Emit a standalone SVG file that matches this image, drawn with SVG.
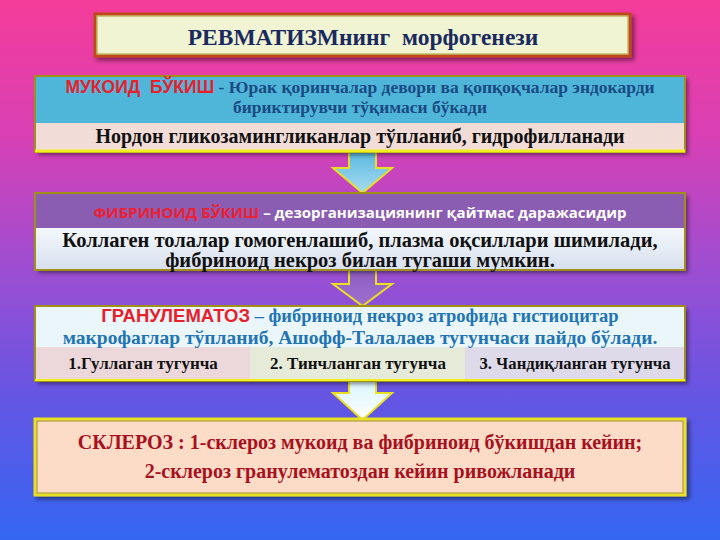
<svg xmlns="http://www.w3.org/2000/svg" width="720" height="540" viewBox="0 0 720 540">
<defs>
<linearGradient id="bg" x1="0" y1="0" x2="0" y2="1">
<stop offset="0" stop-color="#f53c9a"/>
<stop offset="0.25" stop-color="#d840b4"/>
<stop offset="0.5" stop-color="#9c4ed2"/>
<stop offset="0.75" stop-color="#6256e4"/>
<stop offset="1" stop-color="#3466f2"/>
</linearGradient>
<linearGradient id="a1" x1="0" y1="0" x2="0" y2="1">
<stop offset="0" stop-color="#5ab8e0"/>
<stop offset="1" stop-color="#a8dcf0"/>
</linearGradient>
<linearGradient id="a2" x1="0" y1="0" x2="0" y2="1">
<stop offset="0" stop-color="#8c5cc0"/>
<stop offset="1" stop-color="#a070d0"/>
</linearGradient>
<linearGradient id="a3" x1="0" y1="0" x2="0" y2="1">
<stop offset="0" stop-color="#d8f4fc"/>
<stop offset="1" stop-color="#ffffff"/>
</linearGradient>
<linearGradient id="low2" x1="0" y1="0" x2="0" y2="1">
<stop offset="0" stop-color="#f4f8fc"/>
<stop offset="1" stop-color="#d8e0ee"/>
</linearGradient>
<filter id="sh" x="-5%" y="-20%" width="110%" height="140%">
<feDropShadow dx="3" dy="3" stdDeviation="2" flood-color="#000" flood-opacity="0.45"/>
</filter>
</defs>
<style>
.serif{font-family:"Liberation Serif","Times New Roman",serif;font-weight:bold}
.sans{font-family:"Liberation Sans",Arial,sans-serif;font-weight:bold}
.os{font-family:"Open Sans","Liberation Sans",sans-serif;font-weight:bold}
.frame{fill:none;stroke:#a09018;stroke-width:2}
.arrow{stroke:#e8e020;stroke-width:2;stroke-linejoin:miter}
</style>
<rect width="720" height="540" fill="url(#bg)"/>

<g id="title">
<rect x="95" y="14" width="535" height="42" fill="#f0f4d2" stroke="#c04a1c" stroke-width="3" filter="url(#sh)"/>
<rect x="97" y="16" width="531" height="38" fill="none" stroke="#a8a030" stroke-width="1"/>
<text x="363" y="45" text-anchor="middle" class="serif" font-size="23.5" fill="#1a2a5e" xml:space="preserve">РЕВМАТИЗМнинг  морфогенези</text>
</g>

<g id="connectors">
<path class="arrow" fill="url(#a1)" d="M349,152 H376 V168 H392 L362.5,193 L333,168 H349 Z"/>
<path class="arrow" fill="url(#a2)" d="M349,270 H376 V284 H392 L362.5,306 L333,284 H349 Z"/>
<path class="arrow" fill="url(#a3)" d="M349,380 H376 V393 H392 L362.5,420 L333,393 H349 Z"/>
</g>

<g id="mukoid">
<rect x="35" y="76" width="650" height="76" fill="#4fb6da" filter="url(#sh)"/>
<rect x="36" y="123" width="648" height="27" fill="#f2dcd8"/>
<rect x="35" y="76" width="650" height="76" class="frame"/>
<line x1="35" y1="151" x2="685" y2="151" stroke="#f0f020" stroke-width="3"/>
<text x="360" y="93" text-anchor="middle" font-size="17.5" xml:space="preserve"><tspan class="sans" fill="#e8202c">МУКОИД  БЎКИШ</tspan><tspan class="serif" fill="#1a4a82"> - Юрак қоринчалар девори ва қопқоқчалар эндокарди</tspan></text>
<text x="360" y="113" text-anchor="middle" class="serif" font-size="17.5" fill="#1a4a82">бириктирувчи тўқимаси бўкади</text>
<text x="360" y="143" text-anchor="middle" class="serif" font-size="20" fill="#111">Нордон гликозамингликанлар тўпланиб, гидрофилланади</text>
</g>

<g id="fibrinoid">
<rect x="35" y="193" width="650" height="77" fill="#8a5cb2" filter="url(#sh)"/>
<rect x="36" y="228" width="648" height="41" fill="url(#low2)"/>
<rect x="35" y="193" width="650" height="77" class="frame"/>
<text x="360" y="218" text-anchor="middle" font-size="15"><tspan class="os" fill="#ee2030">ФИБРИНОИД БЎКИШ</tspan><tspan class="os" fill="#ffffff"> – дезорганизациянинг қайтмас даражасидир</tspan></text>
<text x="360" y="247" text-anchor="middle" class="serif" font-size="20.5" fill="#111">Коллаген толалар гомогенлашиб, плазма оқсиллари шимилади,</text>
<text x="360" y="267" text-anchor="middle" class="serif" font-size="20.5" fill="#111">фибриноид некроз билан тугаши мумкин.</text>
</g>

<g id="granulematoz">
<rect x="35" y="306" width="650" height="75" fill="#eaf6fa" filter="url(#sh)"/>
<rect x="36" y="347" width="214" height="33" fill="#ecd8da"/>
<rect x="250" y="347" width="215" height="33" fill="#e6ead8"/>
<rect x="465" y="347" width="219" height="33" fill="#dedaea"/>
<rect x="35" y="306" width="650" height="75" class="frame" stroke="#d8d020"/>
<line x1="35" y1="380" x2="685" y2="380" stroke="#f0f020" stroke-width="2"/>
<text x="360" y="322" text-anchor="middle" font-size="18.5"><tspan class="sans" fill="#e8202c">ГРАНУЛЕМАТОЗ</tspan><tspan class="serif" fill="#2274b4"> – фибриноид некроз атрофида гистиоцитар</tspan></text>
<text x="360" y="344" text-anchor="middle" class="serif" font-size="19.5" fill="#2274b4">макрофаглар тўпланиб, Ашофф-Талалаев тугунчаси пайдо бўлади.</text>
<text x="143" y="369" text-anchor="middle" class="serif" font-size="17" fill="#111">1.Гуллаган тугунча</text>
<text x="358" y="369" text-anchor="middle" class="serif" font-size="17" fill="#111">2. Тинчланган тугунча</text>
<text x="575" y="369" text-anchor="middle" class="serif" font-size="16.7" fill="#111">3. Чандиқланган тугунча</text>
</g>

<g id="skleroz">
<rect x="35" y="419" width="650" height="76" fill="#fcdcc6" stroke="#e8e020" stroke-width="3" filter="url(#sh)"/>
<rect x="37" y="421" width="646" height="72" fill="none" stroke="#a09018" stroke-width="1"/>
<text x="360" y="449" text-anchor="middle" class="serif" font-size="20" fill="#a8101e">СКЛЕРОЗ : 1-склероз мукоид ва фибриноид бўкишдан кейин;</text>
<text x="360" y="478" text-anchor="middle" class="serif" font-size="20" fill="#a8101e">2-склероз гранулематоздан кейин ривожланади</text>
</g>
</svg>
